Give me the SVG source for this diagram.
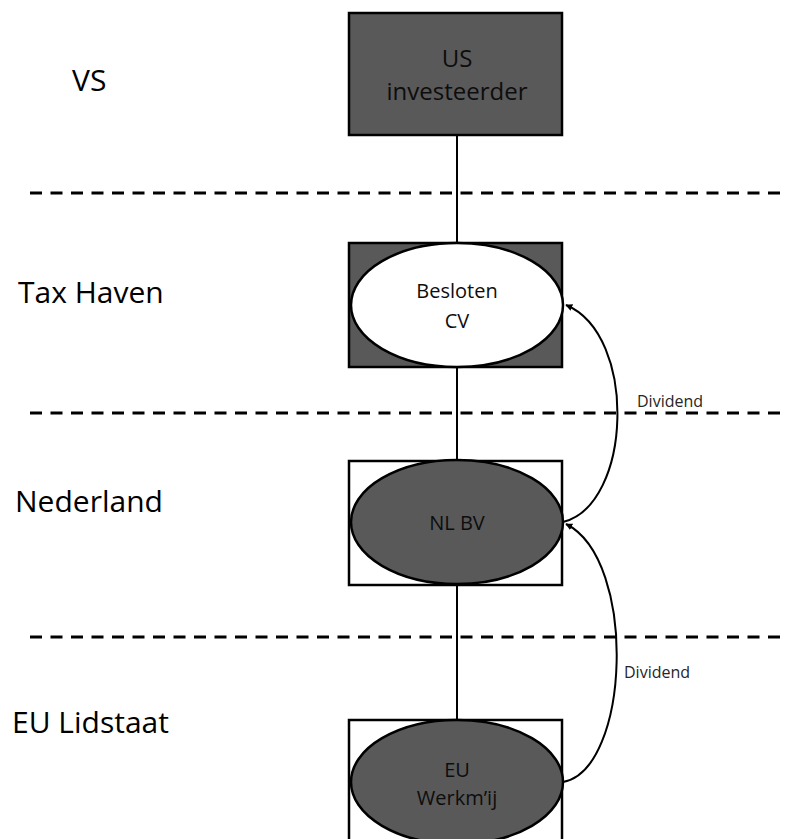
<svg xmlns="http://www.w3.org/2000/svg" width="785" height="839" viewBox="0 0 785 839">
  <style>
    .lbl { font-family: "Open Sans", "Liberation Sans", sans-serif; fill: #000; }
    .region { font-size: 30px; }
    .node { font-size: 20px; text-anchor: middle; fill: #0d0d0d; }
    .big { font-size: 24px; }
    .small { font-size: 16px; fill: #262626; }
    .box { stroke: #000; stroke-width: 2.5; }
    .dark { fill: #595959; }
    .light { fill: #fff; }
    .sep { stroke: #000; stroke-width: 3; stroke-dasharray: 12 8.5; fill: none; }
    .link { stroke: #000; stroke-width: 2; fill: none; }
  </style>
  <defs>
    <marker id="arrow" viewBox="0 0 10 10" refX="9" refY="5" markerWidth="7" markerHeight="7" orient="auto" markerUnits="userSpaceOnUse">
      <path d="M0,0 L10,5 L0,10 Z" fill="#000"/>
    </marker>
  </defs>
  <rect width="785" height="839" fill="#fff"/>

  <!-- jurisdiction separators -->
  <g id="separators">
    <line class="sep" x1="30" y1="193" x2="785" y2="193"/>
    <line class="sep" x1="30" y1="413" x2="785" y2="413"/>
    <line class="sep" x1="30" y1="637" x2="785" y2="637"/>
  </g>

  <!-- jurisdiction names -->
  <g id="regions" class="lbl region">
    <text x="72" y="91">VS</text>
    <text x="18" y="303">Tax Haven</text>
    <text x="15" y="512">Nederland</text>
    <text x="12" y="733">EU Lidstaat</text>
  </g>

  <!-- connectors -->
  <g id="connectors">
    <line class="link" x1="457" y1="135" x2="457" y2="243"/>
    <line class="link" x1="457" y1="367" x2="457" y2="461"/>
    <line class="link" x1="457" y1="585" x2="457" y2="720"/>
    <path class="link" d="M563,522 C632,505 638,335 566,305" marker-end="url(#arrow)"/>
    <path class="link" d="M563,782 C630,770 638,560 566,524" marker-end="url(#arrow)"/>
    <text class="lbl small" x="637" y="407">Dividend</text>
    <text class="lbl small" x="624" y="678">Dividend</text>
  </g>

  <g id="us-investeerder">
    <rect class="box dark" x="349" y="13" width="213" height="122"/>
    <text class="lbl node big" x="457" y="67">US</text>
    <text class="lbl node big" x="457" y="100">investeerder</text>
  </g>

  <g id="besloten-cv">
    <rect class="box dark" x="349" y="243" width="213" height="124"/>
    <ellipse class="box light" cx="457" cy="305" rx="106" ry="62"/>
    <text class="lbl node" x="457" y="298">Besloten</text>
    <text class="lbl node" x="457" y="328">CV</text>
  </g>

  <g id="nl-bv">
    <rect class="box light" x="349" y="461" width="213" height="124"/>
    <ellipse class="box dark" cx="457" cy="522" rx="106" ry="62"/>
    <text class="lbl node" x="457" y="530">NL BV</text>
  </g>

  <g id="eu-werkmij">
    <rect class="box light" x="349" y="720" width="213" height="130"/>
    <ellipse class="box dark" cx="457" cy="782" rx="106" ry="62"/>
    <text class="lbl node" x="457" y="777">EU</text>
    <text class="lbl node" x="457" y="805">Werkm’ij</text>
  </g>
</svg>
